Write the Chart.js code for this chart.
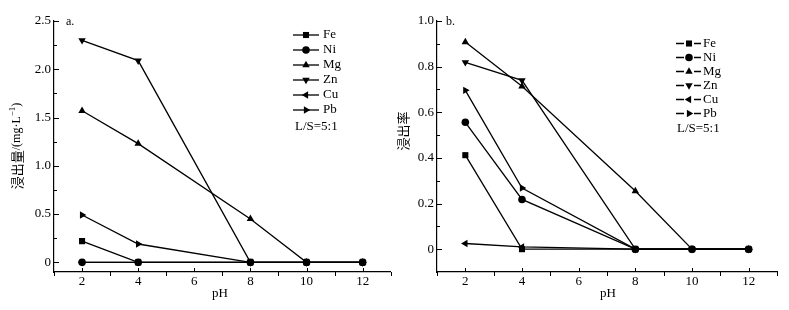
<!DOCTYPE html>
<html>
<head>
<meta charset="utf-8">
<script src="https://cdn.jsdelivr.net/npm/chart.js@4/dist/chart.umd.min.js"></script>
<style>
  body { margin: 0; background: #fff; }
  #wrap { position: relative; width: 789px; height: 310px; }
  canvas { position: absolute; top: 0; }
</style>
</head>
<body>
<div id="wrap">
  <canvas id="chartA" width="395" height="310" style="left:0"></canvas>
  <canvas id="chartB" width="394" height="310" style="left:395px"></canvas>
</div>
<script>
// pH values where samples were taken
const phValues = [2, 4, 8, 10, 12];
const xTickLabels = [2, 4, 6, 8, 10, 12];
const seriesNames = ["Fe", "Ni", "Mg", "Zn", "Cu", "Pb"];

// a. leaching amount (mg/L)
const feAmount = [0.22, 0, 0, 0, 0];
const niAmount = [0, 0, 0, 0, 0];
const mgAmount = [1.57, 1.23, 0.45, 0, 0];
const znAmount = [2.30, 2.09, 0, 0, 0];
const cuAmount = [0, 0, 0, 0, 0];
const pbAmount = [0.49, 0.19, 0, 0, 0];
const yTicksA = [0, 0.5, 1.0, 1.5, 2.0, 2.5];

// b. leaching rate
const feRate = [0.412, 0, 0, 0, 0];
const niRate = [0.556, 0.218, 0, 0, 0];
const mgRate = [0.908, 0.714, 0.255, 0, 0];
const znRate = [0.819, 0.74, 0, 0, 0];
const cuRate = [0.025, 0.01, 0, 0, 0];
const pbRate = [0.696, 0.268, 0, 0, 0];
const yTicksB = [0, 0.2, 0.4, 0.6, 0.8, 1.0];

const SERIF = "'Liberation Serif', 'Times New Roman', serif";
const CJK = "'Noto Sans CJK SC', sans-serif";

const markers = {
  Fe: { style: "rect", rot: 0 },
  Ni: { style: "circle", rot: 0 },
  Mg: { style: "triangle", rot: 0 },
  Zn: { style: "triangle", rot: 180 },
  Cu: { style: "triangle", rot: -90 },
  Pb: { style: "triangle", rot: 90 }
};

function buildDatasets(values) {
  return seriesNames.map((name, i) => ({
    label: name,
    data: phValues.map((x, j) => ({ x, y: values[i][j] })),
    borderColor: "#000",
    backgroundColor: "#000",
    borderWidth: 1.3,
    pointStyle: markers[name].style,
    rotation: markers[name].rot,
    pointRadius: markers[name].style === "circle" ? 3.8 : 4.3,
    pointBorderWidth: 0,
    order: name === "Ni" ? 0 : 1
  }));
}

// ticks, legend, labels and axis titles
const decor = {
  id: "decor",
  afterDraw(chart) {
    const o = chart.options.plugins.decor;
    const { ctx, scales: { x, y } } = chart;
    const ax = chart.chartArea.left, ay = chart.chartArea.bottom;
    ctx.save();
    ctx.strokeStyle = "#000";
    ctx.fillStyle = "#000";
    ctx.lineWidth = 1;

    // x ticks: majors up, minors down
    for (let v = 1; v <= 13; v++) {
      const px = Math.round(x.getPixelForValue(v)) + 0.5;
      ctx.beginPath();
      if (xTickLabels.includes(v)) { ctx.moveTo(px, ay); ctx.lineTo(px, ay - 4); }
      else { ctx.moveTo(px, ay); ctx.lineTo(px, ay + 4); }
      ctx.stroke();
    }
    // y ticks: inward
    const yt = o.yTicks;
    const step = (yt[1] - yt[0]) / 2;
    for (let k = 0; k <= (yt.length - 1) * 2; k++) {
      const v = yt[0] + k * step;
      const py = Math.round(y.getPixelForValue(v)) + 0.5;
      ctx.beginPath();
      ctx.moveTo(ax, py);
      ctx.lineTo(ax + (k % 2 === 0 ? 5 : 3), py);
      ctx.stroke();
    }

    // panel label
    ctx.font = "12px " + SERIF;
    ctx.textBaseline = "middle";
    ctx.textAlign = "left";
    ctx.fillText(o.panel, o.panelX, 22);

    // legend
    const lg = o.legend;
    chart.data.datasets.forEach((ds, i) => {
      const ly = lg.y + lg.dy * i;
      ctx.lineWidth = 1.3;
      ctx.beginPath();
      if (lg.gap) {
        ctx.moveTo(lg.x0, ly); ctx.lineTo(lg.mx - 5, ly);
        ctx.moveTo(lg.mx + 5, ly); ctx.lineTo(lg.x1, ly);
      } else {
        ctx.moveTo(lg.x0, ly); ctx.lineTo(lg.x1, ly);
      }
      ctx.stroke();
      Chart.helpers.drawPoint(ctx, {
        pointStyle: ds.pointStyle, rotation: ds.rotation,
        radius: ds.pointRadius, borderWidth: 0
      }, lg.mx, ly);
      ctx.font = "13px " + SERIF;
      ctx.fillText(ds.label, lg.tx, ly);
    });
    ctx.fillText("L/S=5:1", lg.lsX, lg.lsY);

    // x title
    ctx.textAlign = "center";
    ctx.font = "13px " + SERIF;
    ctx.fillText("pH", o.phX, 294);

    // y title
    ctx.translate(o.yTitleX, o.yTitleY);
    ctx.rotate(-Math.PI / 2);
    ctx.textAlign = "left";
    const parts = o.yTitle;
    let total = 0;
    parts.forEach(p => { ctx.font = p.font; total += ctx.measureText(p.t).width; });
    let cx = -total / 2;
    parts.forEach(p => {
      ctx.font = p.font;
      ctx.fillText(p.t, cx, p.dy || 0);
      cx += ctx.measureText(p.t).width;
    });
    ctx.restore();
  }
};

function makeChart(id, values, yTicks, yWidth, padRight, extra) {
  const ctx = document.getElementById(id).getContext("2d");
  return new Chart(ctx, {
    type: "line",
    data: { datasets: buildDatasets(values) },
    options: {
      responsive: false,
      animation: false,
      layout: { padding: { top: 21, right: padRight, left: 0, bottom: 0 } },
      plugins: {
        legend: { display: false },
        tooltip: { enabled: false },
        decor: Object.assign({ yTicks }, extra)
      },
      scales: {
        x: {
          type: "linear",
          min: 1,
          max: 13,
          grid: { display: false, drawTicks: false },
          border: { display: true, color: "#000", width: 1.2 },
          afterBuildTicks: s => { s.ticks = xTickLabels.map(v => ({ value: v })); },
          afterFit: s => { s.height = 38; },
          ticks: { color: "#000", padding: 2, font: { family: SERIF, size: 13 } }
        },
        y: {
          min: -0.1,
          max: yTicks[yTicks.length - 1],
          grid: { display: false, drawTicks: false },
          border: { display: true, color: "#000", width: 1.2 },
          afterBuildTicks: s => { s.ticks = yTicks.map(v => ({ value: v })); },
          afterFit: s => { s.width = yWidth; },
          ticks: {
            color: "#000",
            padding: 3,
            font: { family: SERIF, size: 13 },
            callback: v => (v === 0 ? "0" : v.toFixed(1))
          }
        }
      }
    },
    plugins: [decor]
  });
}

makeChart("chartA",
  [feAmount, niAmount, mgAmount, znAmount, cuAmount, pbAmount],
  yTicksA, 54, 2, {
    panel: "a.", panelX: 66,
    legend: { x0: 293, x1: 319, mx: 306, tx: 323, y: 35, dy: 15, gap: false, lsX: 295, lsY: 127 },
    phX: 220,
    yTitleX: 17, yTitleY: 146,
    yTitle: [
      { t: "浸出量", font: "13px " + CJK },
      { t: "/(mg·L", font: "12px " + SERIF },
      { t: "−1", font: "9px " + SERIF, dy: -4 },
      { t: ")", font: "12px " + SERIF }
    ]
  });

makeChart("chartB",
  [feRate, niRate, mgRate, znRate, cuRate, pbRate],
  yTicksB, 42, 12, {
    panel: "b.", panelX: 51,
    legend: { x0: 281, x1: 306, mx: 294, tx: 308, y: 43.5, dy: 14, gap: true, lsX: 282, lsY: 129 },
    phX: 213,
    yTitleX: 8, yTitleY: 131,
    yTitle: [{ t: "浸出率", font: "13px " + CJK }]
  });
</script>
</body>
</html>
